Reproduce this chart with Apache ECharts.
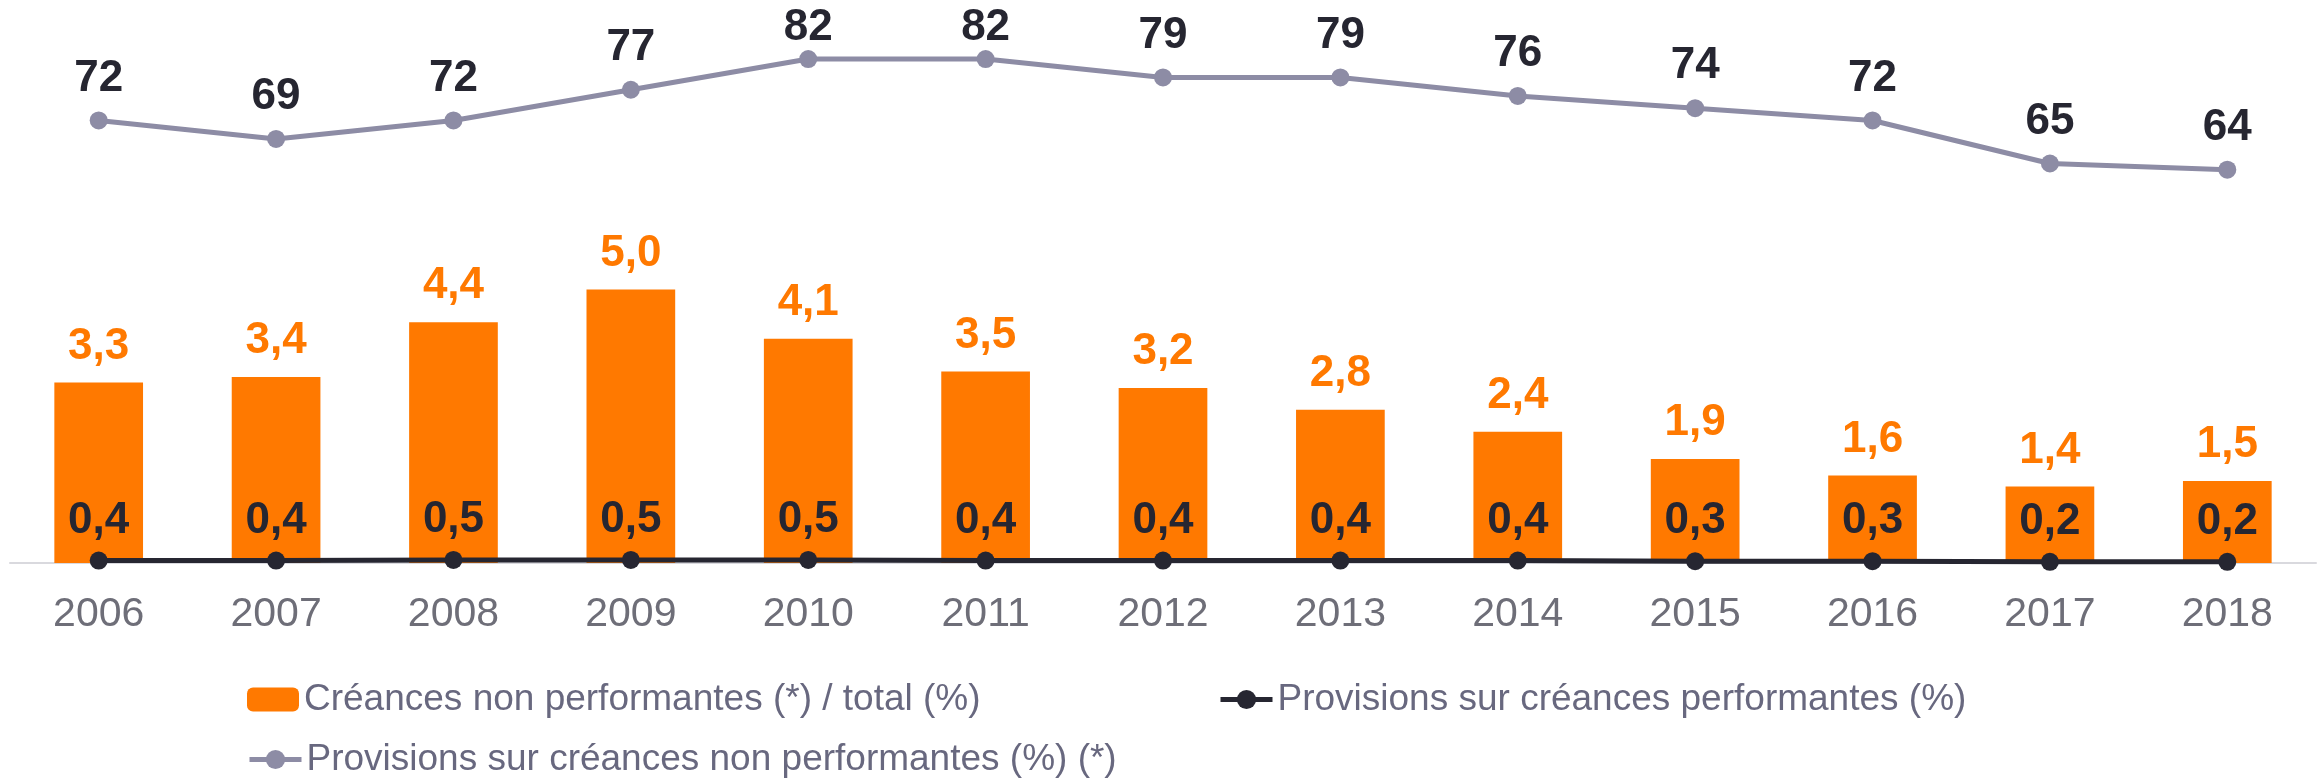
<!DOCTYPE html>
<html>
<head>
<meta charset="utf-8">
<script src="https://cdn.jsdelivr.net/npm/echarts@6/dist/echarts.min.js"></script>
<style>
  html, body { margin: 0; padding: 0; background: #fff; }
  #chart { width: 2323px; height: 779px; }
</style>
</head>
<body>
<div id="chart"></div>
<script>
const years = ['2006', '2007', '2008', '2009', '2010', '2011', '2012', '2013', '2014', '2015', '2016', '2017', '2018']
const nplShare = [3.3, 3.4, 4.4, 5.0, 4.1, 3.5, 3.2, 2.8, 2.4, 1.9, 1.6, 1.4, 1.5]
const perfProvisions = [0.4, 0.4, 0.5, 0.5, 0.5, 0.4, 0.4, 0.4, 0.4, 0.3, 0.3, 0.2, 0.2]
const nplProvisions = [72, 69, 72, 77, 82, 82, 79, 79, 76, 74, 72, 65, 64]

const names = [
  'Créances non performantes (*) / total (%)',
  'Provisions sur créances performantes (%)',
  'Provisions sur créances non performantes (%) (*)',
]

const FONT = '"Liberation Sans", Arial, sans-serif'
const ORANGE = '#ff7900'
const DARK = '#262631'
const GREY = '#8d8ca5'

const comma = (p) => p.value.toFixed(1).replace('.', ',')

const chart = echarts.init(document.getElementById('chart'))

function legendItem(name, left, top) {
  return {
    data: [name],
    left: left,
    top: top,
    itemWidth: 52,
    itemHeight: 24,
    itemGap: 0,
    padding: 0,
    lineStyle: { width: 5 },
    textStyle: { color: '#68687f', fontSize: 37, fontFamily: FONT },
  }
}

chart.setOption({
  animation: false,
  grid: { left: 10, right: 7, top: 16, bottom: 216 },
  legend: [
    legendItem(names[0], 247, 681),
    legendItem(names[1], 1218, 681),
    legendItem(names[2], 247, 741),
  ],
  xAxis: {
    type: 'category',
    data: years,
    axisLine: { lineStyle: { color: '#d9d9de', width: 2 } },
    axisTick: { show: false },
    axisLabel: { color: '#6e6e78', fontSize: 41, fontFamily: FONT, margin: 31 },
  },
  yAxis: [
    { type: 'value', min: 0, max: 10, show: false },
    { type: 'value', min: 0, max: 89, show: false },
  ],
  series: [
    {
      name: names[0],
      type: 'bar',
      data: nplShare,
      barWidth: '50%',
      itemStyle: { color: ORANGE },
      label: {
        show: true,
        position: 'top',
        distance: 14,
        formatter: comma,
        color: ORANGE,
        fontSize: 44,
        fontWeight: 'bold',
        fontFamily: FONT,
      },
    },
    {
      name: names[1],
      type: 'line',
      yAxisIndex: 1,
      data: perfProvisions,
      symbol: 'circle',
      symbolSize: 18,
      lineStyle: { color: DARK, width: 5 },
      itemStyle: { color: DARK },
      label: {
        show: true,
        position: 'top',
        distance: 9,
        formatter: comma,
        color: DARK,
        fontSize: 44,
        fontWeight: 'bold',
        fontFamily: FONT,
      },
    },
    {
      name: names[2],
      type: 'line',
      yAxisIndex: 1,
      data: nplProvisions,
      symbol: 'circle',
      symbolSize: 18,
      lineStyle: { color: GREY, width: 5 },
      itemStyle: { color: GREY },
      label: {
        show: true,
        position: 'top',
        distance: 11,
        color: DARK,
        fontSize: 44,
        fontWeight: 'bold',
        fontFamily: FONT,
      },
      // keep the highest labels inside the canvas
      labelLayout: (p) => (p.labelRect.y < 6 ? { dy: 6 - p.labelRect.y } : {}),
    },
  ],
})
</script>
</body>
</html>
